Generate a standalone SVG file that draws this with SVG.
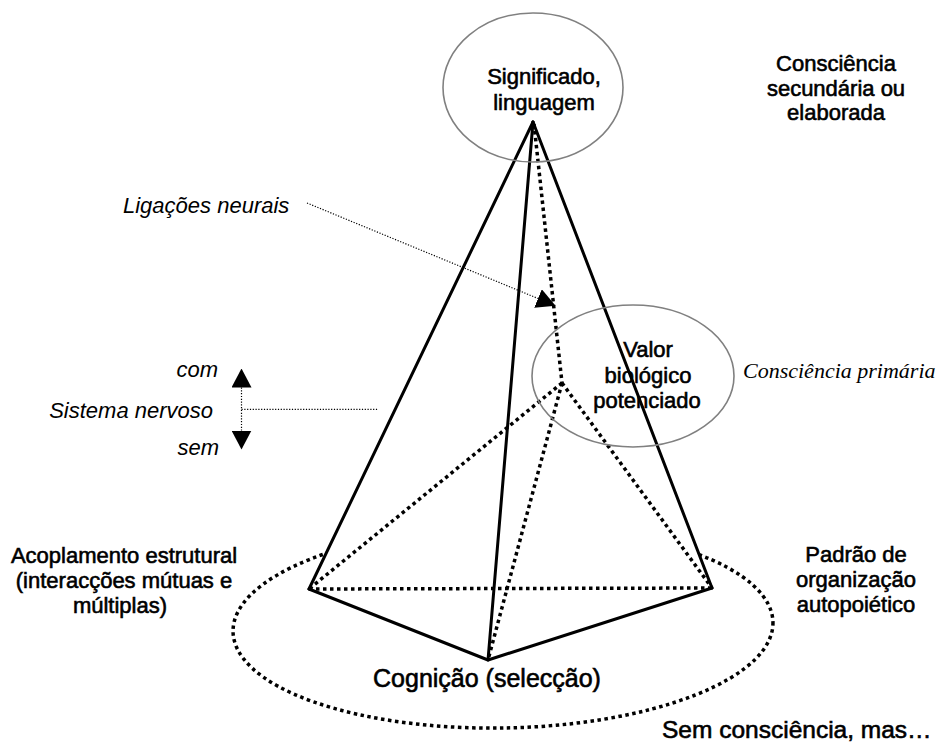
<svg xmlns="http://www.w3.org/2000/svg" width="943" height="747" viewBox="0 0 943 747">
  <style>
    .lbl { font-family: "Liberation Sans", Arial, sans-serif; font-size: 22px; fill: #000; stroke: #000; stroke-width: 0.6; text-anchor: middle; }
    .note { font-family: "Liberation Sans", Arial, sans-serif; font-size: 22px; font-style: italic; fill: #000; }
    .serif { font-family: "Liberation Serif", "Times New Roman", serif; font-size: 22px; font-style: italic; fill: #000; }
    .ring { fill: none; stroke: #808080; stroke-width: 1.6; }
    .edge { fill: none; stroke: #000; stroke-width: 3; stroke-linecap: round; stroke-linejoin: round; }
    .hidden { fill: none; stroke: #000; stroke-width: 3.5; stroke-dasharray: 3.5 3.5; }
    .guide { fill: none; stroke: #000; stroke-width: 1.2; stroke-dasharray: 1.2 1.6; }
  </style>
  <defs>
    <marker id="head" viewBox="0 0 19 20" markerWidth="19" markerHeight="20" refX="0" refY="10" markerUnits="userSpaceOnUse" orient="auto-start-reverse">
      <path d="M0,0 L19,10 L0,20 z" fill="#000"/>
    </marker>
    <!-- the far side of the base ring is hidden behind the pyramid -->
    <mask id="behind-pyramid" maskUnits="userSpaceOnUse" x="0" y="0" width="943" height="747">
      <rect width="943" height="747" fill="#fff"/>
      <polygon points="533,122 309,589 488,660 712,588" fill="#000"/>
    </mask>
  </defs>

  <rect width="943" height="747" fill="#fff"/>

  <!-- base plane -->
  <g id="base-plane">
    <ellipse class="hidden" cx="503" cy="627" rx="270" ry="101" transform="rotate(-1 503 627)" mask="url(#behind-pyramid)"/>
  </g>

  <!-- pyramid edges -->
  <g id="connectors">
    <!-- hidden edges -->
    <line class="hidden" x1="534" y1="124" x2="562" y2="383"/>
    <line class="hidden" x1="562" y1="383" x2="309" y2="589"/>
    <line class="hidden" x1="562" y1="383" x2="712" y2="588"/>
    <line class="hidden" x1="562" y1="383" x2="488" y2="660"/>
    <line class="hidden" x1="309" y1="589" x2="712" y2="588"/>
    <!-- visible edges -->
    <line class="edge" x1="533" y1="122" x2="309" y2="589"/>
    <line class="edge" x1="533" y1="122" x2="712" y2="588"/>
    <line class="edge" x1="533" y1="122" x2="488" y2="660" stroke-width="2.5"/>
    <polyline class="edge" points="309,589 488,660 712,588"/>
    <!-- annotation leaders -->
    <line class="guide" x1="307" y1="203" x2="538" y2="298.5" marker-end="url(#head)"/>
    <line class="guide" x1="241.5" y1="387.5" x2="241.5" y2="430.5" marker-start="url(#head)" marker-end="url(#head)"/>
    <line class="guide" x1="241.5" y1="409.3" x2="378" y2="409.3"/>
  </g>

  <g id="node-significado">
    <ellipse class="ring" cx="533" cy="87.5" rx="90" ry="74.5"/>
    <text class="lbl" x="544" y="84">Significado,</text>
    <text class="lbl" x="544" y="110">linguagem</text>
  </g>

  <g id="node-valor">
    <ellipse class="ring" cx="633" cy="376" rx="101" ry="71"/>
    <text class="lbl" x="648" y="357">Valor</text>
    <text class="lbl" x="648" y="383">biológico</text>
    <text class="lbl" x="647" y="408">potenciado</text>
  </g>

  <g id="node-acoplamento">
    <text class="lbl" x="124" y="563">Acoplamento estrutural</text>
    <text class="lbl" x="124" y="588">(interacções mútuas e</text>
    <text class="lbl" x="120" y="613">múltiplas)</text>
  </g>

  <g id="node-padrao">
    <text class="lbl" x="856" y="562">Padrão de</text>
    <text class="lbl" x="856" y="587">organização</text>
    <text class="lbl" x="856" y="612">autopoiético</text>
  </g>

  <g id="node-cognicao">
    <text class="lbl" x="487" y="687" style="font-size:25px">Cognição (selecção)</text>
  </g>

  <g id="label-secundaria">
    <text class="lbl" x="836" y="71">Consciência</text>
    <text class="lbl" x="836" y="96">secundária ou</text>
    <text class="lbl" x="836" y="120">elaborada</text>
  </g>

  <g id="label-primaria">
    <text class="serif" x="743" y="378">Consciência primária</text>
  </g>

  <g id="label-sem-consciencia">
    <text class="lbl" x="662" y="738" style="font-size:24.5px;text-anchor:start">Sem consciência, mas…</text>
  </g>

  <g id="label-ligacoes">
    <text class="note" x="123" y="213">Ligações neurais</text>
  </g>

  <g id="label-sistema">
    <text class="note" x="218" y="377" text-anchor="end">com</text>
    <text class="note" x="213" y="418" text-anchor="end">Sistema nervoso</text>
    <text class="note" x="219" y="455" text-anchor="end">sem</text>
  </g>
</svg>
